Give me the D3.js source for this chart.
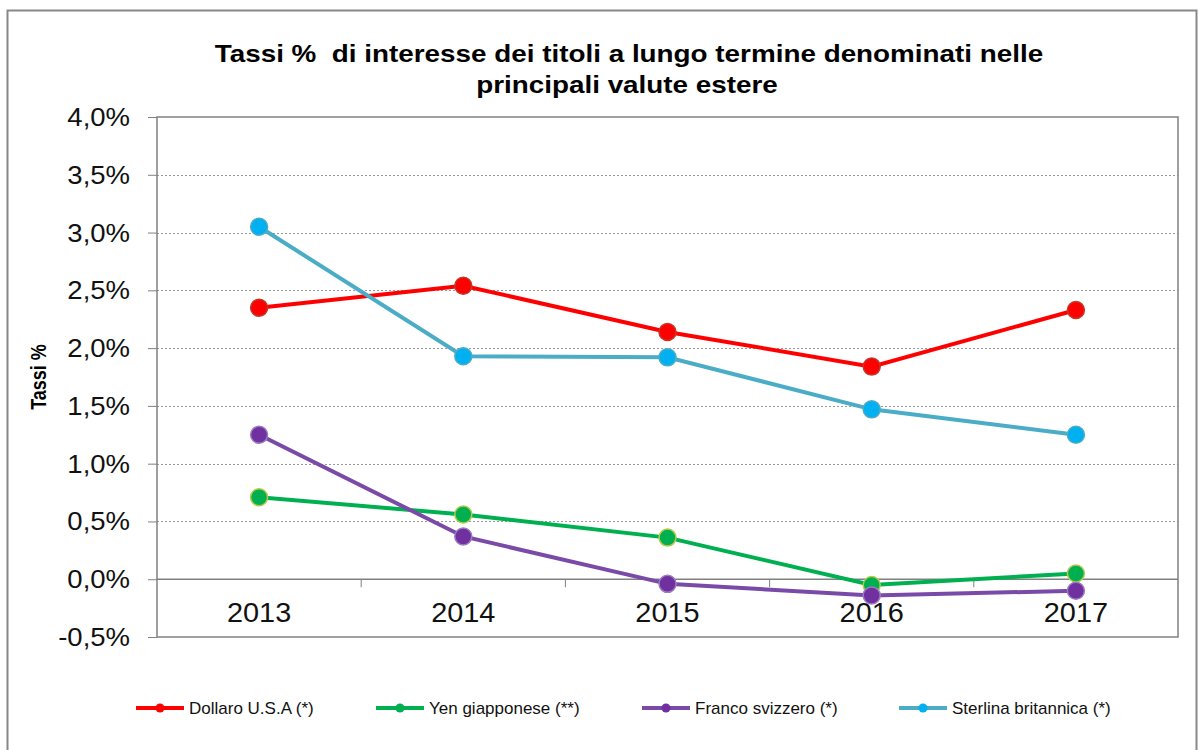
<!DOCTYPE html>
<style>
body { margin: 0; background: #fff; }
.grid line { stroke: #999; stroke-dasharray: 2,2; shape-rendering: crispEdges; }
text { font-family: "Liberation Sans", Arial, sans-serif; white-space: pre; }
</style>
<svg width="1198" height="750"></svg>
<script src="https://d3js.org/d3.v7.min.js"></script>
<script>

var years = ["2013", "2014", "2015", "2016", "2017"];
var dollaro = [2.35, 2.54, 2.14, 1.84, 2.33];
var yen = [0.71, 0.56, 0.36, -0.05, 0.05];
var franco = [1.25, 0.37, -0.04, -0.14, -0.10];
var sterlina = [3.05, 1.93, 1.92, 1.47, 1.25];
var yTicks = [-0.5, 0, 0.5, 1, 1.5, 2, 2.5, 3, 3.5, 4];

var series = [
  {name: "Dollaro U.S.A (*)", values: dollaro, line: "#ff0000", fill: "#ff0000", edge: "#c0392b", lx: 136},
  {name: "Yen giapponese (**)", values: yen, line: "#00b050", fill: "#00b050", edge: "#b5c94a", lx: 376},
  {name: "Franco svizzero (*)", values: franco, line: "#7a4aa8", fill: "#7030a0", edge: "#9c7cc0", lx: 642},
  {name: "Sterlina britannica (*)", values: sterlina, line: "#4bacc6", fill: "#00b0f0", edge: "#4bacc6", lx: 899}
];

var svg = d3.select("svg"),
    margin = {top: 117, right: 20, bottom: 113, left: 157},
    width = +svg.attr("width") - margin.left - margin.right,
    height = +svg.attr("height") - margin.top - margin.bottom;

// text that is a bit wider than the font (the original is stretched sideways)
function wideText(sel, x, y, sx, size, anchor, str) {
  return sel.append("text")
      .attr("transform", "translate(" + x + "," + y + ") scale(" + sx + ",1)")
      .attr("text-anchor", anchor)
      .attr("font-size", size)
      .attr("fill", "#111")
      .text(str);
}

// outer frame
svg.append("rect")
    .attr("x", 7.5).attr("y", 10.5)
    .attr("width", 1189).attr("height", 760)
    .attr("fill", "none").attr("stroke", "#888").attr("stroke-width", 2);

var x = d3.scaleBand().domain(years).range([0, width]);
var y = d3.scaleLinear().domain([-0.5, 4]).range([height, 0]);

var g = svg.append("g").attr("transform", "translate(" + margin.left + "," + margin.top + ")");

// dashed grid
g.append("g").attr("class", "grid")
  .selectAll("line")
  .data(yTicks.filter(function(d) { return d !== 0 && d !== 4 && d !== -0.5; }))
  .enter().append("line")
    .attr("x1", 0).attr("x2", width)
    .attr("y1", function(d) { return Math.round(y(d)) + 0.5; })
    .attr("y2", function(d) { return Math.round(y(d)) + 0.5; });

// plot border
g.append("rect")
    .attr("x", 0).attr("y", 0)
    .attr("width", width).attr("height", height)
    .attr("fill", "none").attr("stroke", "#808080").attr("stroke-width", 1.5);

// y axis
var yAxis = g.append("g")
    .call(d3.axisLeft(y).tickValues(yTicks).tickSize(9).tickFormat(""));
yAxis.select(".domain").remove();
yAxis.selectAll("line").attr("stroke", "#808080");
yTicks.forEach(function(d) {
  var lab = d3.format(".1f")(d).replace(".", ",").replace("−", "-") + "%";
  wideText(g, -27, y(d) + 9, 1.1, 25, "end", lab);
});

// zero axis line with category ticks
var xAxis = g.append("g").attr("transform", "translate(0," + y(0) + ")");
xAxis.append("line")
    .attr("x1", 0).attr("x2", width)
    .attr("stroke", "#808080").attr("stroke-width", 1.5);
xAxis.selectAll("line.tk")
  .data(years.slice(1))
  .enter().append("line").attr("class", "tk")
    .attr("x1", function(d) { return x(d); }).attr("x2", function(d) { return x(d); })
    .attr("y1", 0).attr("y2", 8)
    .attr("stroke", "#808080");
years.forEach(function(d) {
  wideText(xAxis, x(d) + x.bandwidth() / 2, 43, 1.07, 27, "middle", d);
});

// lines and markers
var line = d3.line()
    .x(function(d, i) { return x(years[i]) + x.bandwidth() / 2; })
    .y(function(d) { return y(d); });

series.forEach(function(s) {
  g.append("path")
      .datum(s.values)
      .attr("fill", "none")
      .attr("stroke", s.line)
      .attr("stroke-width", 4)
      .attr("d", line);
});
series.forEach(function(s) {
  g.append("g").selectAll("circle")
    .data(s.values)
    .enter().append("circle")
      .attr("cx", function(d, i) { return x(years[i]) + x.bandwidth() / 2; })
      .attr("cy", function(d) { return y(d); })
      .attr("r", 8.5)
      .attr("fill", s.fill)
      .attr("stroke", s.edge)
      .attr("stroke-width", 1.5);
});

// title
wideText(svg, 629, 62, 1.16, 24, "middle", "Tassi %  di interesse dei titoli a lungo termine denominati nelle")
    .attr("font-weight", "bold").attr("fill", "#000");
wideText(svg, 627, 93, 1.16, 24, "middle", "principali valute estere")
    .attr("font-weight", "bold").attr("fill", "#000");

// y title
svg.append("text")
    .attr("transform", "translate(46," + (margin.top + y(1.75)) + ") rotate(-90) scale(1,1.25)")
    .attr("text-anchor", "middle")
    .attr("font-size", 18).attr("font-weight", "bold")
    .text("Tassi %");

// legend
var legend = svg.append("g")
  .selectAll("g")
  .data(series)
  .enter().append("g")
    .attr("transform", function(d) { return "translate(" + d.lx + ",708)"; });
legend.append("line")
    .attr("x1", 0).attr("x2", 48)
    .attr("stroke", function(d) { return d.line; })
    .attr("stroke-width", 4);
legend.append("circle")
    .attr("cx", 24).attr("r", 4.5)
    .attr("fill", function(d) { return d.fill; });
legend.append("text")
    .attr("x", 53).attr("dy", "0.35em")
    .attr("font-size", 17)
    .attr("fill", "#111")
    .text(function(d) { return d.name; });

</script>
